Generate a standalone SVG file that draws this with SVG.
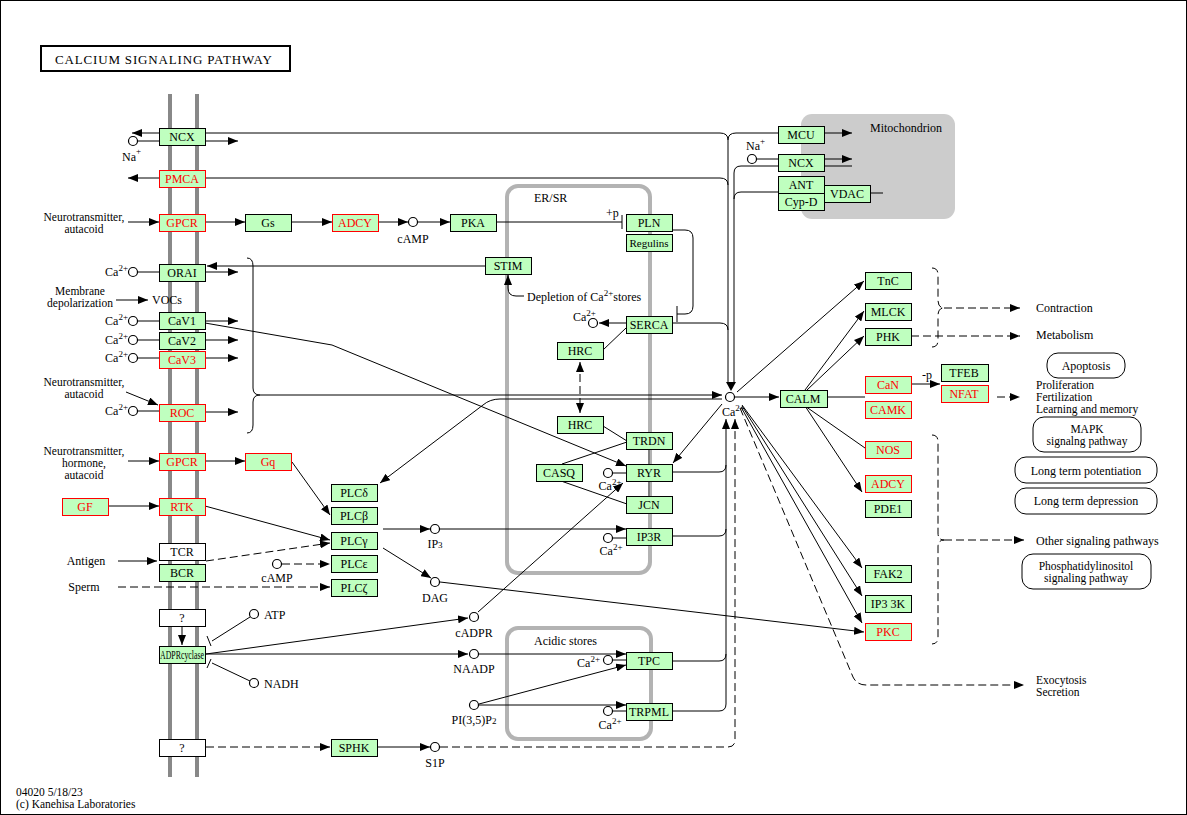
<svg xmlns="http://www.w3.org/2000/svg" width="1187" height="815" viewBox="0 0 1187 815">
<defs>
<marker id="a" viewBox="0 0 10 8" refX="10" refY="4" markerWidth="10" markerHeight="8" markerUnits="userSpaceOnUse" orient="auto-start-reverse"><path d="M0,0 L10,4 L0,8 z" fill="#000"/></marker>
<style>
text{font-family:"Liberation Serif","DejaVu Serif",serif;font-size:12px;fill:#000}
.s{font-size:11.5px}
.c{text-anchor:middle}
.e{text-anchor:end}
rect{shape-rendering:crispEdges}
.g rect{fill:#bfffbf;stroke:#000;stroke-width:1}
.r rect{fill:#bfffbf;stroke:#f00;stroke-width:1}
.r text{fill:#f00}
.w rect{fill:#fff;stroke:#000;stroke-width:1}
.cn path,.cn line{fill:none;stroke:#000;stroke-width:1}
.ar{marker-end:url(#a)}
.d{stroke-dasharray:8,4}
circle{fill:#fff;stroke:#000;stroke-width:1.2}
.sup{font-size:9px}
.pw rect{fill:#fff;stroke:#000;stroke-width:1;shape-rendering:auto}
</style>
</defs>
<rect x="0" y="0" width="1186" height="814" fill="#fff" stroke="#000"/>
<!-- compartments -->
<rect x="801" y="114" width="154" height="105" rx="11" fill="#ccc" style="shape-rendering:auto"/>
<text x="870" y="132">Mitochondrion</text>
<rect x="507" y="186" width="143" height="387" rx="11" fill="none" stroke="#b3b3b3" stroke-width="4" style="shape-rendering:auto"/>
<text x="534" y="202">ER/SR</text>
<rect x="507" y="628" width="144" height="111" rx="11" fill="none" stroke="#b3b3b3" stroke-width="4" style="shape-rendering:auto"/>
<text x="534" y="645">Acidic stores</text>
<line x1="170" y1="94" x2="170" y2="777" stroke="#888" stroke-width="4"/>
<line x1="197" y1="94" x2="197" y2="777" stroke="#888" stroke-width="4"/>
<!-- title -->
<rect x="41" y="46" width="249" height="25" fill="#fff" stroke="#000" stroke-width="2"/>
<text x="55" y="64" textLength="217" lengthAdjust="spacing" style="font-size:13px">CALCIUM SIGNALING PATHWAY</text>
<text class="s" x="16" y="796">04020 5/18/23</text>
<text class="s" x="16" y="808">(c) Kanehisa Laboratories</text>

<!-- connectors -->
<g id="connectors" class="cn">
<path class="ar" d="M159,133 H132"/>
<path d="M205,133 H720 Q728,133 728,140"/>
<path d="M138,141 H159"/>
<path class="ar" d="M205,141 H238"/>
<path class="ar" d="M159,178 H128"/>
<path d="M205,178 H720 Q728,178 728,185"/>
<path class="ar" d="M128,222 H159"/>
<path class="ar" d="M205,222 H245"/>
<path class="ar" d="M291,222 H332"/>
<path class="ar" d="M378,222 H408"/>
<path class="ar" d="M418,222 H450"/>
<path d="M496,222 H622 M622,215 V229"/>
<path d="M672,230 H685 Q693,230 693,238 V306 Q693,314 685,314 H677 M677,306 V322"/>
<path class="ar" d="M485,266 H207"/>
<path d="M138,272 H159"/>
<path class="ar" d="M205,272 H238"/>
<path class="ar" d="M524,296 H516 Q508,296 508,288 V275"/>
<path class="ar" d="M116,300 H148"/>
<path d="M138,321 H159 M138,340 H159 M138,358 H159 M138,411 H159"/>
<path class="ar" d="M205,321 H238"/>
<path class="ar" d="M205,340 H238"/>
<path class="ar" d="M205,358 H238"/>
<path class="ar" d="M205,323 L332,345 L626,466"/>
<path class="ar" d="M126,392 L158,405"/>
<path class="ar" d="M205,412 H238"/>
<path d="M247,258 Q253,258 253,266 V388 Q253,395 260,395 Q253,395 253,402 V425 Q253,433 247,433"/>
<path class="ar" d="M260,395 H722"/>
<path class="ar" d="M722,399 H500 Q490,399 483,405 L380,483"/>
<path class="ar" d="M128,461 H159"/>
<path class="ar" d="M205,461 H245"/>
<path class="ar" d="M292,462 L330,515"/>
<path class="ar" d="M108,506 H159"/>
<path class="ar" d="M205,506 L330,540"/>
<path class="ar" d="M118,561 H157"/>
<path class="ar d" d="M206,561 L330,543"/>
<path class="ar d" d="M282,564 H330"/>
<path class="ar d" d="M118,587 H330"/>
<path class="ar" d="M383,529 H430"/>
<path class="ar" d="M440,529 H626"/>
<path class="ar" d="M383,548 L431,578"/>
<path class="ar" d="M440,582 L864,632"/>
<path class="ar" d="M182,626 V645"/>
<path class="ar" d="M206,654 L468,618"/>
<path class="ar" d="M206,654 H468"/>
<path d="M250,617 L212,641 M207,636 L211,646"/>
<path d="M250,681 L212,663 M207,668 L211,659"/>
<path class="ar" d="M478,612 L623,483"/>
<path class="ar" d="M479,654 H626"/>
<path class="ar" d="M479,704 L626,665"/>
<path class="ar" d="M479,705 H626"/>
<path d="M613,660 H626 M613,711 H626 M613,473 H626 M613,538 H626"/>
<path d="M672,661 H719 Q726,661 726,654"/>
<path d="M672,711 H719 Q726,711 726,704"/>
<path d="M672,472 H719 Q726,472 726,465"/>
<path d="M672,536 H719 Q726,536 726,529"/>
<path class="ar" d="M726,704 V419"/>
<path class="ar d" d="M206,747 H330"/>
<path class="ar" d="M377,747 H430"/>
<path class="ar d" d="M440,747 H728 Q735,747 735,740 V419"/>
<path class="ar" d="M626,323 H599"/>
<path d="M672,323 H720 Q728,323 728,330"/>
<path d="M626,328 L603,350"/>
<path class="ar d" marker-start="url(#a)" d="M580,362 V413"/>
<path d="M603,426 L627,441 M562,464 L627,442 M561,481 L627,504"/>
<line x1="649" y1="449" x2="649" y2="496" style="stroke:#808080;stroke-width:2"/>
<path class="ar" d="M722,404 L673,463"/>
<path d="M757,159 H778"/>
<path class="ar" d="M824,159 H852"/>
<path d="M824,166 H852"/>
<path d="M778,166 H741 Q734,166 734,173"/>
<path class="ar" d="M824,133 H852"/>
<path d="M778,133 H736 Q728,133 728,140"/>
<path d="M778,192 H741 Q734,192 734,199"/>
<path d="M870,193 H883"/>
<path d="M728,140 V383 M734,173 V383"/>
<path d="M726,382 L736,382 L731,391 Z" style="fill:#000;stroke:none"/>
<path class="ar" d="M735,397 H779"/>
<path class="ar" d="M737,392 L864,281"/>
<path class="ar" d="M805,390 L864,311"/>
<path class="ar" d="M807,390 L864,336"/>
<path d="M827,397 H865"/>
<path d="M805,406 L865,448"/>
<path class="ar" d="M805,406 L862,492"/>
<path class="ar" d="M742,405 L862,568"/>
<path class="ar" d="M742,406 L862,596"/>
<path class="ar" d="M741,407 L862,623"/>
<path class="ar d" d="M740,408 L853,677 Q857,685 866,685 H1024"/>
<path class="ar" d="M911,384 H940"/>
<path class="d" d="M932,268 Q938,268 938,275 V300 Q938,308 944,308 Q938,308 938,316 V340 Q938,347 932,347"/>
<path class="ar d" d="M944,308 H1020"/>
<path class="ar d" d="M911,336 H1020"/>
<path class="ar d" d="M997,397 H1020"/>
<path class="d" d="M932,435 Q938,435 938,442 V533 Q938,540 944,540 Q938,540 938,547 V637 Q938,644 932,644"/>
<path class="ar d" d="M944,540 H1024"/>
</g>

<!-- compounds -->
<g id="compounds">
<circle cx="133" cy="141" r="4.5"/>
<circle cx="133" cy="272" r="4.5"/>
<circle cx="133" cy="321" r="4.5"/>
<circle cx="133" cy="340" r="4.5"/>
<circle cx="133" cy="358" r="4.5"/>
<circle cx="133" cy="411" r="4.5"/>
<circle cx="413" cy="222" r="4.5"/>
<circle cx="593" cy="323" r="4.5"/>
<circle cx="608" cy="473" r="4.5"/>
<circle cx="608" cy="538" r="4.5"/>
<circle cx="730" cy="397" r="4.5"/>
<circle cx="435" cy="529" r="4.5"/>
<circle cx="435" cy="582" r="4.5"/>
<circle cx="277" cy="564" r="4.5"/>
<circle cx="254" cy="614" r="4.5"/>
<circle cx="254" cy="683" r="4.5"/>
<circle cx="474" cy="617" r="4.5"/>
<circle cx="474" cy="654" r="4.5"/>
<circle cx="474" cy="705" r="4.5"/>
<circle cx="608" cy="660" r="4.5"/>
<circle cx="608" cy="711" r="4.5"/>
<circle cx="435" cy="747" r="4.5"/>
<circle cx="752" cy="159" r="4.5"/>
</g>

<!-- labels -->
<g id="labels">
<text x="122" y="161">Na<tspan dy="-7" class="sup">+</tspan></text>
<text x="746" y="150">Na<tspan dy="-6" class="sup">+</tspan></text>
<text class="e" x="128" y="276">Ca<tspan dy="-5" class="sup">2+</tspan></text>
<text class="e" x="128" y="325">Ca<tspan dy="-5" class="sup">2+</tspan></text>
<text class="e" x="128" y="344">Ca<tspan dy="-5" class="sup">2+</tspan></text>
<text class="e" x="128" y="362">Ca<tspan dy="-5" class="sup">2+</tspan></text>
<text class="e" x="128" y="415">Ca<tspan dy="-5" class="sup">2+</tspan></text>
<text class="c s" x="84" y="221">Neurotransmitter,</text>
<text class="c s" x="84" y="233">autacoid</text>
<text class="c s" x="80" y="295">Membrane</text>
<text class="c s" x="80" y="307">depolarization</text>
<text x="152" y="304">VOCs</text>
<text class="c s" x="84" y="386">Neurotransmitter,</text>
<text class="c s" x="84" y="398">autacoid</text>
<text class="c s" x="84" y="455">Neurotransmitter,</text>
<text class="c s" x="84" y="467">hormone,</text>
<text class="c s" x="84" y="479">autacoid</text>
<text class="c" x="86" y="565">Antigen</text>
<text class="c" x="84" y="591">Sperm</text>
<text class="c" x="277" y="582">cAMP</text>
<text class="c" x="413" y="243">cAMP</text>
<text x="264" y="619">ATP</text>
<text x="264" y="688">NADH</text>
<text class="c" x="435" y="548">IP<tspan class="sup">3</tspan></text>
<text class="c" x="435" y="602">DAG</text>
<text class="c" x="474" y="637">cADPR</text>
<text class="c" x="474" y="673">NAADP</text>
<text class="c" x="474" y="724">PI(3,5)P<tspan class="sup">2</tspan></text>
<text class="c" x="435" y="767">S1P</text>
<text class="e" x="600" y="667">Ca<tspan dy="-5" class="sup">2+</tspan></text>
<text class="c" x="610" y="729">Ca<tspan dy="-5" class="sup">2+</tspan></text>
<text class="c" x="610" y="490">Ca<tspan dy="-5" class="sup">2+</tspan></text>
<text class="c" x="611" y="555">Ca<tspan dy="-5" class="sup">2+</tspan></text>
<text x="573" y="321">Ca<tspan dy="-5" class="sup">2+</tspan></text>
<text x="722" y="416">Ca<tspan dy="-5" class="sup">2+</tspan></text>
<text x="527" y="301">Depletion of Ca<tspan dy="-5" class="sup">2+</tspan><tspan dy="5">stores</tspan></text>
<text x="606" y="217">+p</text>
<text x="922" y="379">-p</text>
<text x="1036" y="312">Contraction</text>
<text x="1036" y="339">Metabolism</text>
<text class="s" x="1036" y="389">Proliferation</text>
<text class="s" x="1036" y="401">Fertilization</text>
<text class="s" x="1036" y="413">Learning and memory</text>
<text x="1036" y="545">Other signaling pathways</text>
<text class="s" x="1036" y="684">Exocytosis</text>
<text class="s" x="1036" y="696">Secretion</text>
</g>

<!-- pathway maps -->
<g id="map-apoptosis" class="pw"><rect x="1047" y="353" width="78" height="25" rx="11"/><text class="c" x="1086" y="370">Apoptosis</text></g>
<g id="map-mapk" class="pw"><rect x="1033" y="417" width="108" height="35" rx="11"/><text class="c s" x="1087" y="433">MAPK</text><text class="c s" x="1087" y="445">signalng pathway</text></g>
<g id="map-ltp" class="pw"><rect x="1015" y="457" width="142" height="26" rx="11"/><text class="c" x="1086" y="475">Long term potentiation</text></g>
<g id="map-ltd" class="pw"><rect x="1015" y="488" width="142" height="26" rx="11"/><text class="c" x="1086" y="505">Long term depression</text></g>
<g id="map-pi" class="pw"><rect x="1022" y="554" width="129" height="35" rx="11"/><text class="c s" x="1086" y="570">Phosphatidylinositol</text><text class="c s" x="1086" y="582">signaling pathway</text></g>

<!-- nodes -->
<g id="n-NCX" class="g"><rect x="159" y="128" width="46" height="17"/><text class="c" x="182" y="141">NCX</text></g>
<g id="n-PMCA" class="r"><rect x="159" y="170" width="46" height="17"/><text class="c" x="182" y="183">PMCA</text></g>
<g id="n-GPCR1" class="r"><rect x="159" y="214" width="46" height="17"/><text class="c" x="182" y="227">GPCR</text></g>
<g id="n-ORAI" class="g"><rect x="159" y="264" width="46" height="17"/><text class="c" x="182" y="277">ORAI</text></g>
<g id="n-CaV1" class="g"><rect x="159" y="312" width="46" height="17"/><text class="c" x="182" y="325">CaV1</text></g>
<g id="n-CaV2" class="g"><rect x="159" y="332" width="46" height="17"/><text class="c" x="182" y="345">CaV2</text></g>
<g id="n-CaV3" class="r"><rect x="159" y="351" width="46" height="17"/><text class="c" x="182" y="364">CaV3</text></g>
<g id="n-ROC" class="r"><rect x="159" y="404" width="46" height="17"/><text class="c" x="182" y="417">ROC</text></g>
<g id="n-GPCR2" class="r"><rect x="159" y="453" width="46" height="17"/><text class="c" x="182" y="466">GPCR</text></g>
<g id="n-RTK" class="r"><rect x="159" y="498" width="46" height="17"/><text class="c" x="182" y="511">RTK</text></g>
<g id="n-TCR" class="w"><rect x="159" y="543" width="46" height="17"/><text class="c" x="182" y="556">TCR</text></g>
<g id="n-BCR" class="g"><rect x="159" y="564" width="46" height="17"/><text class="c" x="182" y="577">BCR</text></g>
<g id="n-Q1" class="w"><rect x="159" y="609" width="46" height="17"/><text class="c" x="182" y="622">?</text></g>
<g id="n-ADPRC" class="g"><rect x="159" y="646" width="46" height="17"/><text x="160" y="659" textLength="44" lengthAdjust="spacingAndGlyphs">ADPRcyclase</text></g>
<g id="n-Q2" class="w"><rect x="159" y="739" width="46" height="17"/><text class="c" x="182" y="752">?</text></g>
<g id="n-Gs" class="g"><rect x="245" y="214" width="46" height="17"/><text class="c" x="268" y="227">Gs</text></g>
<g id="n-ADCY1" class="r"><rect x="332" y="214" width="46" height="17"/><text class="c" x="355" y="227">ADCY</text></g>
<g id="n-PKA" class="g"><rect x="450" y="214" width="46" height="17"/><text class="c" x="473" y="227">PKA</text></g>
<g id="n-PLN" class="g"><rect x="626" y="214" width="46" height="17"/><text class="c" x="649" y="227">PLN</text></g>
<g id="n-Regulins" class="g"><rect x="626" y="234" width="46" height="17"/><text class="c" x="649" y="247" style="font-size:11px">Regulins</text></g>
<g id="n-STIM" class="g"><rect x="485" y="257" width="46" height="17"/><text class="c" x="508" y="270">STIM</text></g>
<g id="n-SERCA" class="g"><rect x="626" y="316" width="46" height="17"/><text class="c" x="649" y="329">SERCA</text></g>
<g id="n-HRC1" class="g"><rect x="557" y="342" width="46" height="17"/><text class="c" x="580" y="355">HRC</text></g>
<g id="n-HRC2" class="g"><rect x="557" y="416" width="46" height="17"/><text class="c" x="580" y="429">HRC</text></g>
<g id="n-TRDN" class="g"><rect x="626" y="432" width="46" height="17"/><text class="c" x="649" y="445">TRDN</text></g>
<g id="n-CASQ" class="g"><rect x="536" y="464" width="46" height="17"/><text class="c" x="559" y="477">CASQ</text></g>
<g id="n-RYR" class="g"><rect x="626" y="464" width="46" height="17"/><text class="c" x="649" y="477">RYR</text></g>
<g id="n-JCN" class="g"><rect x="626" y="496" width="46" height="17"/><text class="c" x="649" y="509">JCN</text></g>
<g id="n-IP3R" class="g"><rect x="626" y="528" width="46" height="17"/><text class="c" x="649" y="541">IP3R</text></g>
<g id="n-Gq" class="r"><rect x="245" y="453" width="46" height="17"/><text class="c" x="268" y="466">Gq</text></g>
<g id="n-GF" class="r"><rect x="62" y="498" width="46" height="17"/><text class="c" x="85" y="511">GF</text></g>
<g id="n-PLCd" class="g"><rect x="331" y="484" width="46" height="17"/><text class="c" x="354" y="497">PLCδ</text></g>
<g id="n-PLCb" class="g"><rect x="331" y="507" width="46" height="17"/><text class="c" x="354" y="520">PLCβ</text></g>
<g id="n-PLCg" class="g"><rect x="331" y="532" width="46" height="17"/><text class="c" x="354" y="545">PLCγ</text></g>
<g id="n-PLCe" class="g"><rect x="331" y="555" width="46" height="17"/><text class="c" x="354" y="568">PLCε</text></g>
<g id="n-PLCz" class="g"><rect x="331" y="579" width="46" height="17"/><text class="c" x="354" y="592">PLCζ</text></g>
<g id="n-TPC" class="g"><rect x="626" y="652" width="46" height="17"/><text class="c" x="649" y="665">TPC</text></g>
<g id="n-TRPML" class="g"><rect x="626" y="703" width="46" height="17"/><text class="c" x="649" y="716">TRPML</text></g>
<g id="n-SPHK" class="g"><rect x="331" y="739" width="46" height="17"/><text class="c" x="354" y="752">SPHK</text></g>
<g id="n-MCU" class="g"><rect x="778" y="126" width="46" height="17"/><text class="c" x="801" y="139">MCU</text></g>
<g id="n-NCXm" class="g"><rect x="778" y="154" width="46" height="17"/><text class="c" x="801" y="167">NCX</text></g>
<g id="n-ANT" class="g"><rect x="778" y="176" width="46" height="17"/><text class="c" x="801" y="189">ANT</text></g>
<g id="n-CypD" class="g"><rect x="778" y="193" width="46" height="17"/><text class="c" x="801" y="206">Cyp-D</text></g>
<g id="n-VDAC" class="g"><rect x="824" y="185" width="46" height="17"/><text class="c" x="847" y="198">VDAC</text></g>
<g id="n-CALM" class="g"><rect x="780" y="390" width="47" height="17"/><text class="c" x="803" y="403">CALM</text></g>
<g id="n-TnC" class="g"><rect x="865" y="272" width="46" height="17"/><text class="c" x="888" y="285">TnC</text></g>
<g id="n-MLCK" class="g"><rect x="865" y="303" width="46" height="17"/><text class="c" x="888" y="316">MLCK</text></g>
<g id="n-PHK" class="g"><rect x="865" y="328" width="46" height="17"/><text class="c" x="888" y="341">PHK</text></g>
<g id="n-CaN" class="r"><rect x="865" y="376" width="46" height="17"/><text class="c" x="888" y="389">CaN</text></g>
<g id="n-CAMK" class="r"><rect x="865" y="401" width="46" height="17"/><text class="c" x="888" y="414">CAMK</text></g>
<g id="n-NOS" class="r"><rect x="865" y="441" width="46" height="17"/><text class="c" x="888" y="454">NOS</text></g>
<g id="n-ADCY2" class="r"><rect x="865" y="475" width="46" height="17"/><text class="c" x="888" y="488">ADCY</text></g>
<g id="n-PDE1" class="g"><rect x="865" y="500" width="46" height="17"/><text class="c" x="888" y="513">PDE1</text></g>
<g id="n-FAK2" class="g"><rect x="865" y="565" width="46" height="17"/><text class="c" x="888" y="578">FAK2</text></g>
<g id="n-IP33K" class="g"><rect x="865" y="595" width="46" height="17"/><text class="c" x="888" y="608">IP3 3K</text></g>
<g id="n-PKC" class="r"><rect x="865" y="623" width="46" height="17"/><text class="c" x="888" y="636">PKC</text></g>
<g id="n-TFEB" class="g"><rect x="941" y="364" width="47" height="17"/><text class="c" x="964" y="377">TFEB</text></g>
<g id="n-NFAT" class="r"><rect x="941" y="385" width="47" height="17"/><text class="c" x="964" y="398">NFAT</text></g>
</svg>
